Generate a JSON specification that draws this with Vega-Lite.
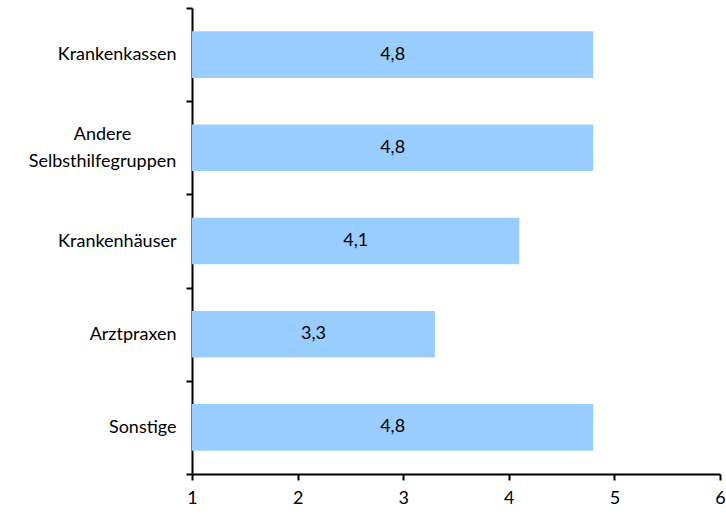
{
  "$schema": "https://vega.github.io/schema/vega-lite/v6.json",
  "width": 528,
  "height": 466,
  "autosize": {"type": "none"},
  "padding": {"left": 192, "top": 8, "right": 6, "bottom": 45},
  "background": "white",
  "config": {
    "locale": {"number": {"decimal": ",", "thousands": ".", "grouping": [3], "currency": ["", " €"]}},
    "view": {"stroke": null},
    "font": "Lato"
  },
  "data": {
    "values": [
      {"kategorie": "Krankenkassen", "wert": 4.8},
      {"kategorie": "Andere Selbsthilfegruppen", "wert": 4.8},
      {"kategorie": "Krankenhäuser", "wert": 4.1},
      {"kategorie": "Arztpraxen", "wert": 3.3},
      {"kategorie": "Sonstige", "wert": 4.8}
    ]
  },
  "transform": [{"calculate": "(datum.wert + 1) / 2", "as": "mitte"}],
  "encoding": {
    "y": {
      "field": "kategorie",
      "type": "nominal",
      "sort": null,
      "scale": {"paddingInner": 0, "paddingOuter": 0},
      "axis": {
        "title": null,
        "domainColor": "black",
        "domainWidth": 2,
        "tickColor": "black",
        "tickWidth": 2,
        "tickSize": 6,
        "tickBand": "extent",
        "labelFont": "Lato",
        "labelFontSize": 18,
        "labelColor": "black",
        "labelPadding": {"condition": {"test": "datum.value == 'Andere Selbsthilfegruppen'", "value": 84}, "value": 10},
        "labelAlign": {"condition": {"test": "datum.value == 'Andere Selbsthilfegruppen'", "value": "center"}, "value": "right"},
        "labelOffset": {"condition": {"test": "datum.value == 'Andere Selbsthilfegruppen'", "value": -13}, "value": 0},
        "labelExpr": "datum.value == 'Andere Selbsthilfegruppen' ? ['Andere', 'Selbsthilfegruppen'] : datum.value",
        "labelLineHeight": 27,
        "labelLimit": 200
      }
    }
  },
  "layer": [
    {
      "mark": {"type": "bar", "color": "#99CCFF", "height": {"band": 0.5}},
      "encoding": {
        "x": {
          "field": "wert",
          "type": "quantitative",
          "scale": {"domain": [1, 6], "zero": false, "nice": false},
          "axis": {
            "title": null,
            "values": [1, 2, 3, 4, 5, 6],
            "format": "d",
            "grid": false,
            "domainColor": "black",
            "domainWidth": 2,
            "tickColor": "black",
            "tickWidth": 2,
            "tickSize": 6,
            "labelFont": "Lato",
            "labelFontSize": 18,
            "labelColor": "black",
            "labelPadding": 9,
            "labelFlush": false
          }
        },
        "x2": {"datum": 1}
      }
    },
    {
      "mark": {"type": "text", "font": "Lato", "fontSize": 18, "color": "black", "baseline": "middle", "align": "center"},
      "encoding": {
        "x": {"field": "mitte", "type": "quantitative"},
        "text": {"field": "wert", "type": "quantitative", "format": ".1f"}
      }
    }
  ]
}
